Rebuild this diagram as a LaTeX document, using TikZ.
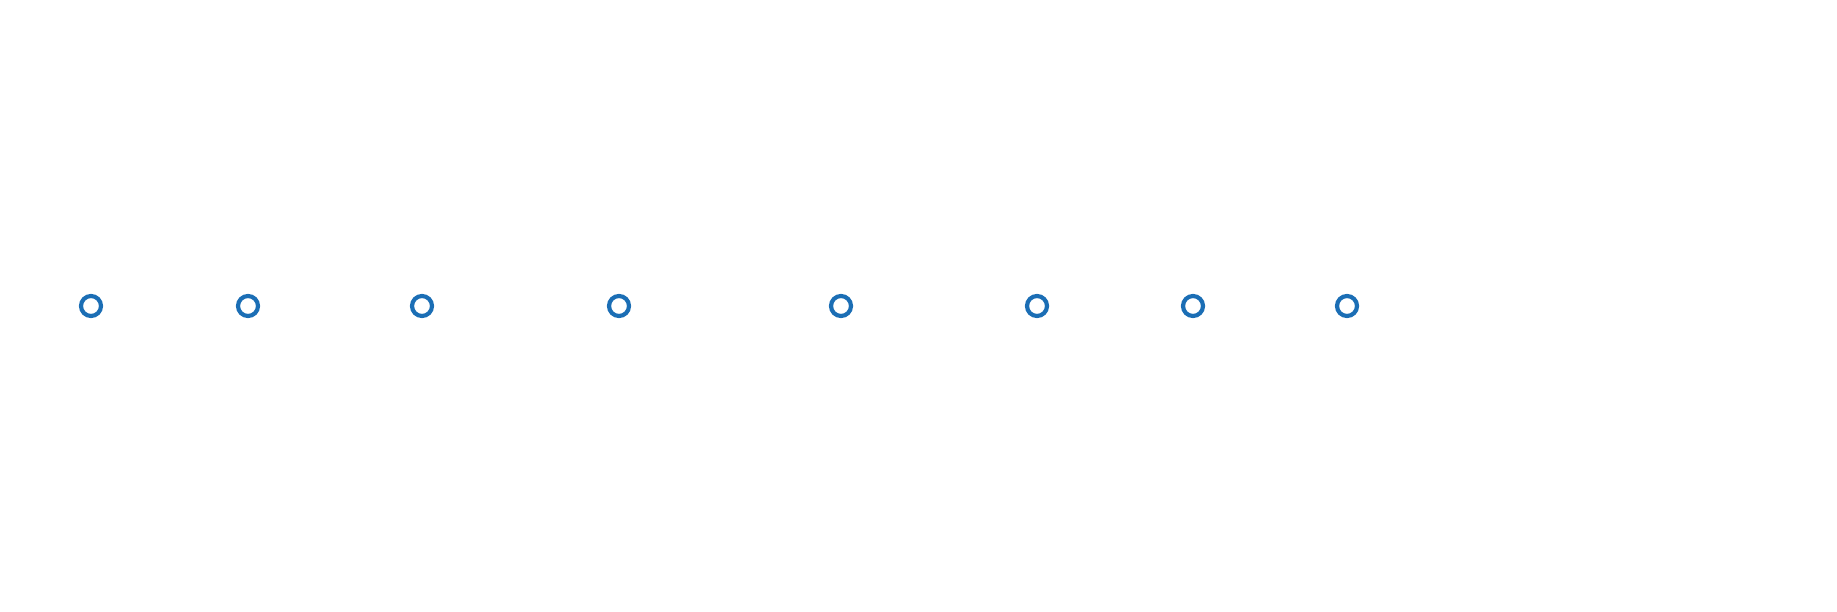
\documentclass[tikz,border=0pt]{standalone}
\definecolor{dotblue}{HTML}{1B6EB5}
\begin{document}
\begin{tikzpicture}[x=1pt,y=-1pt,
  ring/.style={circle,draw=dotblue,line width=4.2pt,minimum size=20pt,inner sep=0pt,fill=white}]
\useasboundingbox (0,0) rectangle (1837,612);
\foreach \x [count=\i] in {91,248,422,619,841,1037,1193,1347}
  \node[ring] (n\i) at (\x,306) {};
\end{tikzpicture}
\end{document}
